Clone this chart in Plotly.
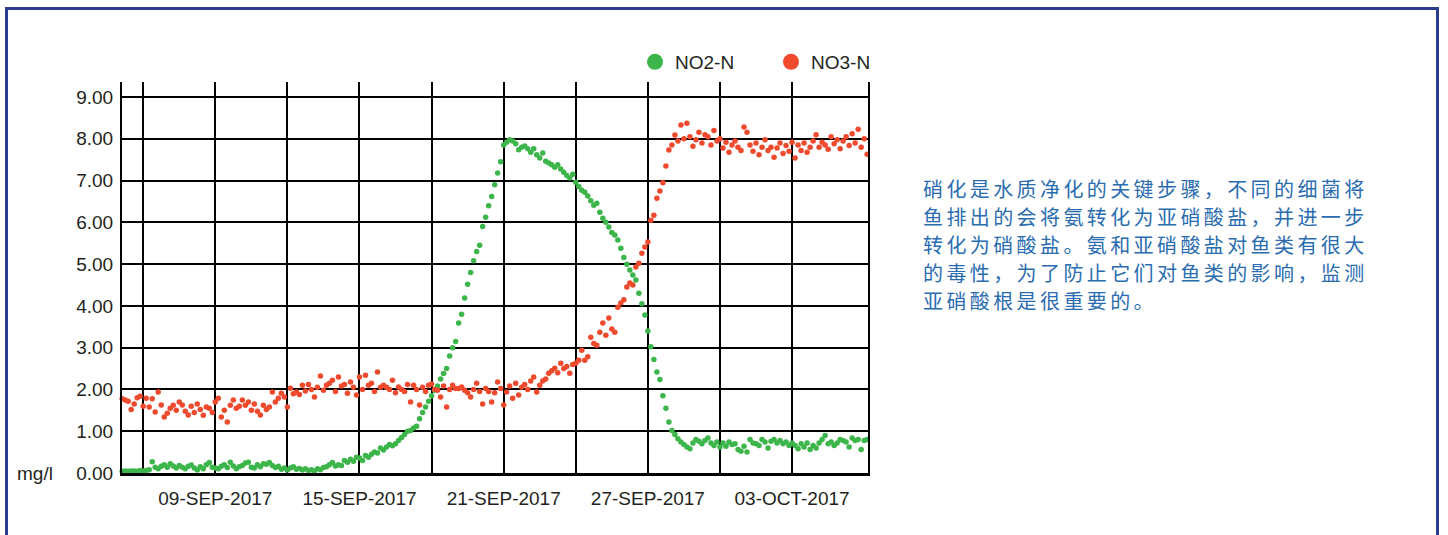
import pandas as pd
import plotly.graph_objects as go

# 3-hourly readings, 05-SEP-2017 03:00 .. 06-OCT-2017 03:00
times = pd.date_range("2017-09-05 03:00", periods=249, freq="3h")

no2_n = [
    0.04, 0.05, 0.04, 0.05, 0.05, 0.04, 0.06, 0.05,
    0.06, 0.08, 0.27, 0.14, 0.10, 0.16, 0.20, 0.14,
    0.22, 0.17, 0.12, 0.18, 0.14, 0.10, 0.16, 0.19,
    0.12, 0.07, 0.15, 0.10, 0.20, 0.25, 0.14, 0.12,
    0.10, 0.16, 0.20, 0.13, 0.26, 0.17, 0.10, 0.15,
    0.18, 0.24, 0.26, 0.14, 0.12, 0.20, 0.15, 0.22,
    0.21, 0.25, 0.18, 0.13, 0.16, 0.09, 0.12, 0.07,
    0.12, 0.15, 0.09, 0.11, 0.07, 0.10, 0.06, 0.08,
    0.05, 0.10, 0.08, 0.13, 0.15, 0.20, 0.25, 0.17,
    0.20, 0.18, 0.30, 0.26, 0.33, 0.28, 0.38, 0.36,
    0.30, 0.42, 0.38, 0.45, 0.50, 0.48, 0.60, 0.55,
    0.62, 0.68, 0.65, 0.70, 0.78, 0.85, 0.92, 1.00,
    1.02, 1.08, 1.12, 1.30, 1.45, 1.58, 1.72, 1.85,
    1.98, 2.08, 2.25, 2.38, 2.50, 2.80, 3.00, 3.15,
    3.59, 3.80, 4.19, 4.52, 4.80, 5.08, 5.30, 5.45,
    5.90, 6.12, 6.40, 6.62, 6.90, 7.18, 7.45, 7.85,
    7.92, 7.98, 7.95, 7.88, 7.74, 7.80, 7.83, 7.76,
    7.68, 7.76, 7.62, 7.54, 7.66, 7.46, 7.42, 7.38,
    7.32, 7.38, 7.28, 7.20, 7.12, 7.06, 7.15, 6.96,
    6.86, 6.77, 6.72, 6.63, 6.52, 6.41, 6.46, 6.24,
    6.10, 6.00, 5.89, 5.76, 5.70, 5.58, 5.38, 5.16,
    5.00, 4.86, 4.74, 4.62, 4.30, 4.05, 3.78, 3.40,
    3.02, 2.72, 2.42, 2.24, 1.85, 1.55, 1.22, 1.02,
    0.92, 0.82, 0.74, 0.68, 0.62, 0.58, 0.72, 0.80,
    0.76, 0.70, 0.78, 0.84, 0.72, 0.66, 0.74, 0.62,
    0.72, 0.64, 0.74, 0.68, 0.70, 0.56, 0.52, 0.64,
    0.50, 0.80, 0.72, 0.70, 0.66, 0.80, 0.74, 0.60,
    0.76, 0.80, 0.72, 0.78, 0.70, 0.74, 0.66, 0.72,
    0.66, 0.58, 0.70, 0.62, 0.72, 0.56, 0.66, 0.60,
    0.72, 0.80, 0.90, 0.70, 0.74, 0.66, 0.72, 0.80,
    0.78, 0.74, 0.62, 0.84, 0.78, 0.80, 0.56, 0.78,
    0.80,
]

no3_n = [
    1.78, 1.75, 1.72, 1.52, 1.65, 1.80, 1.84, 1.60,
    1.79, 1.58, 1.78, 1.46, 1.94, 1.63, 1.34, 1.43,
    1.55, 1.62, 1.50, 1.70, 1.63, 1.48, 1.39, 1.60,
    1.45, 1.65, 1.52, 1.38, 1.58, 1.55, 1.45, 1.70,
    1.79, 1.34, 1.50, 1.22, 1.62, 1.75, 1.55, 1.60,
    1.75, 1.62, 1.70, 1.50, 1.65, 1.48, 1.39, 1.62,
    1.52, 1.58, 1.94, 1.70, 1.79, 1.91, 1.82, 1.58,
    2.03, 1.90, 1.94, 1.88, 2.10, 1.96, 2.12, 2.00,
    1.82, 2.05, 2.32, 1.98, 2.10, 2.15, 2.22, 1.95,
    2.30, 2.08, 2.12, 1.91, 2.18, 2.05, 1.87, 2.30,
    2.00, 2.34, 2.10, 2.15, 1.95, 2.42, 2.05, 2.10,
    2.05, 2.00, 2.22, 1.92, 2.06, 2.00, 1.95, 2.12,
    1.70, 2.10, 2.00, 1.63, 2.05, 1.95, 2.10, 2.13,
    2.00, 1.98, 1.82, 2.08, 1.58, 2.00, 2.10, 2.02,
    2.02, 2.06, 1.98, 1.92, 1.82, 2.00, 2.15, 1.95,
    1.65, 2.02, 1.95, 1.70, 1.92, 2.18, 2.02, 1.63,
    1.94, 2.08, 1.79, 2.15, 1.87, 2.05, 2.12, 2.00,
    2.20, 2.30, 1.94, 2.10, 2.20, 2.25, 2.39, 2.45,
    2.51, 2.40, 2.63, 2.50, 2.55, 2.39, 2.60, 2.63,
    2.70, 2.94, 2.70, 2.78, 3.25, 3.10, 3.06, 3.37,
    3.59, 3.30, 3.71, 3.45, 3.37, 3.97, 4.07, 4.15,
    4.45, 4.55, 4.50, 4.93, 5.02, 5.26, 5.41, 5.53,
    6.05, 6.17, 6.58, 6.75, 6.95, 7.35, 7.73, 7.85,
    8.09, 7.95, 8.33, 8.00, 8.37, 8.05, 7.82, 7.98,
    8.16, 7.90, 8.10, 8.05, 7.85, 8.20, 7.95, 8.00,
    7.78, 7.92, 7.68, 7.85, 7.95, 7.80, 7.72, 8.28,
    8.16, 7.85, 7.70, 7.90, 7.62, 7.80, 7.98, 7.72,
    7.80, 7.56, 7.78, 7.90, 7.65, 7.84, 7.70, 7.92,
    7.54, 7.85, 7.72, 7.90, 7.68, 7.80, 7.95, 8.10,
    7.80, 7.92, 7.85, 7.75, 8.05, 7.88, 7.98, 7.76,
    7.95, 8.05, 7.84, 8.12, 7.90, 8.23, 7.80, 8.00,
    7.63,
]

grid_dates = ["2017-09-06", "2017-09-09", "2017-09-12", "2017-09-15", "2017-09-18",
              "2017-09-21", "2017-09-24", "2017-09-27", "2017-09-30", "2017-10-03"]
grid_labels = ["", "09-SEP-2017", "", "15-SEP-2017", "", "21-SEP-2017", "",
               "27-SEP-2017", "", "03-OCT-2017"]
y_ticks = [0, 1, 2, 3, 4, 5, 6, 7, 8, 9]

series_names = ["NO2-N", "NO3-N"]
series_colors = ["#3cb54a", "#ef4a2e"]

note_lines = [
    "硝化是水质净化的关键步骤，不同的细菌将",
    "鱼排出的会将氨转化为亚硝酸盐，并进一步",
    "转化为硝酸盐。氨和亚硝酸盐对鱼类有很大",
    "的毒性，为了防止它们对鱼类的影响，监测",
    "亚硝酸根是很重要的。",
]

FONT = "Liberation Sans, Arial, sans-serif"
TXT = "#231f20"

fig = go.Figure()
for name, vals, col in zip(series_names, [no2_n, no3_n], series_colors):
    fig.add_trace(go.Scatter(x=times, y=vals, mode="markers", name=name,
                             marker=dict(color=col, size=5.5), showlegend=False,
                             cliponaxis=False))
for name, col in zip(series_names, series_colors):
    fig.add_trace(go.Scatter(x=[None], y=[None], mode="markers", name=name,
                             marker=dict(color=col, size=19), showlegend=True))

# plot-area geometry (px)
L, R, T, B = 122, 868, 82, 473
W, H = R - L, B - T

def px_x(px):
    return (px - L) / W

def px_y(py):
    return (B - py) / H

fig.update_layout(
    width=1448, height=535,
    margin=dict(l=L, r=1448 - R, t=T, b=535 - B, pad=0),
    paper_bgcolor="white", plot_bgcolor="white",
    font=dict(family=FONT, size=19, color=TXT),
    legend=dict(orientation="h", x=px_x(635), xanchor="left",
                y=px_y(62), yanchor="middle",
                font=dict(size=19, color=TXT), itemsizing="trace",
                bgcolor="rgba(0,0,0,0)", entrywidth=91, tracegroupgap=0),
    xaxis=dict(type="date", range=["2017-09-05 02:50", "2017-10-06 03:50"],
               tickmode="array", tickvals=grid_dates, ticktext=grid_labels,
               showgrid=True, gridcolor="black", gridwidth=2,
               showline=True, linecolor="black", linewidth=2.5,
               ticks="", zeroline=False, ticklabelstandoff=6,
               tickfont=dict(size=19, color=TXT)),
    yaxis=dict(range=[0, 9.36], tickmode="array", tickvals=y_ticks,
               tickformat=".2f", showgrid=True, gridcolor="black", gridwidth=2,
               showline=True, mirror=True, linecolor="black", linewidth=2,
               ticks="", zeroline=False, ticklabelstandoff=3,
               tickfont=dict(size=19, color=TXT)),
)

fig.add_annotation(text="mg/l", xref="paper", yref="paper", x=px_x(15), y=px_y(473),
                   xanchor="left", yanchor="middle", showarrow=False,
                   font=dict(size=19, color=TXT))

for i, line in enumerate(note_lines):
    fig.add_annotation(text='<span style="letter-spacing:3.4px">' + line + "</span>",
                       xref="paper", yref="paper", x=px_x(921), y=px_y(188 + 28 * i),
                       xanchor="left", yanchor="middle", showarrow=False, align="left",
                       font=dict(family="Noto Sans CJK SC", size=20, color="#2a6cb0"))

# page frame
fig.add_shape(type="rect", xref="paper", yref="paper",
              x0=px_x(6.5), x1=px_x(1437.5), y0=px_y(560), y1=px_y(8.5),
              line=dict(color="#2b3d8f", width=3), fillcolor="rgba(0,0,0,0)", layer="above")

fig.write_html("out.html", config={"displayModeBar": False},
               post_script="document.body.style.margin='0';document.body.style.overflow='hidden';")
